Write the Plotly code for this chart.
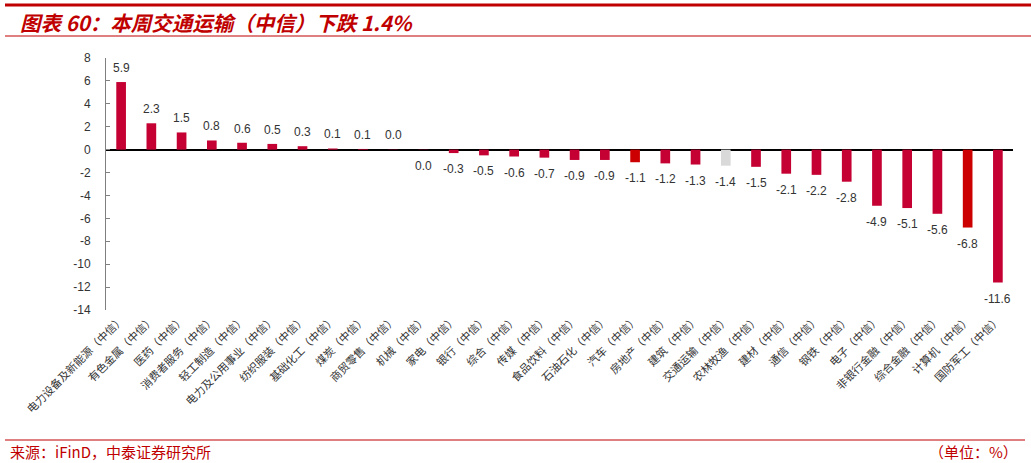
import plotly.graph_objects as go

categories = ["电力设备及新能源（中信）", "有色金属（中信）", "医药（中信）", "消费者服务（中信）",
              "轻工制造（中信）", "电力及公用事业（中信）", "纺织服装（中信）", "基础化工（中信）",
              "煤炭（中信）", "商贸零售（中信）", "机械（中信）", "家电（中信）", "银行（中信）",
              "综合（中信）", "传媒（中信）", "食品饮料（中信）", "石油石化（中信）", "汽车（中信）",
              "房地产（中信）", "建筑（中信）", "交通运输（中信）", "农林牧渔（中信）", "建材（中信）",
              "通信（中信）", "钢铁（中信）", "电子（中信）", "非银行金融（中信）", "综合金融（中信）",
              "计算机（中信）", "国防军工（中信）"]
values = [5.9, 2.3, 1.5, 0.8, 0.6, 0.5, 0.3, 0.1, 0.06, 0.02, -0.02, -0.3, -0.5, -0.6, -0.7,
          -0.9, -0.9, -1.1, -1.2, -1.3, -1.4, -1.5, -2.1, -2.2, -2.8, -4.9, -5.1, -5.6, -6.8, -11.6]
labels = ["5.9", "2.3", "1.5", "0.8", "0.6", "0.5", "0.3", "0.1", "0.1", "0.0", "0.0", "-0.3",
          "-0.5", "-0.6", "-0.7", "-0.9", "-0.9", "-1.1", "-1.2", "-1.3", "-1.4", "-1.5", "-2.1",
          "-2.2", "-2.8", "-4.9", "-5.1", "-5.6", "-6.8", "-11.6"]
y_ticks = [-14, -12, -10, -8, -6, -4, -2, 0, 2, 4, 6, 8]
y_tick_text = ["-14", "-12", "-10", "-8", "-6", "-4", "-2", "0", "2", "4", "6", "8"]

CRIMSON = "#C50032"
RED = "#CC0000"
GREY = "#D9D9D9"
highlight = {"汽车（中信）": RED, "计算机（中信）": RED, "交通运输（中信）": GREY}
colors = [highlight.get(c, CRIMSON) for c in categories]

fig = go.Figure(go.Bar(x=categories, y=values, marker_color=colors, width=0.32,
                       marker_line_width=0, hoverinfo="skip"))

annotations = []
for c, v, t in zip(categories, values, labels):
    annotations.append(dict(x=c, y=v, xref="x", yref="y", text=t, showarrow=False,
                            yanchor="middle", yshift=14 if v >= 0 else -16,
                            font=dict(family="Liberation Sans, Arial", size=12, color="#333333")))

L, W, T, B = 106, 907, 58, 310
H = B - T
def px(x): return (x - L) / W
def py(y): return (B - y) / H

annotations += [
    dict(x=px(18), y=py(22), xref="paper", yref="paper", xanchor="left", yanchor="middle",
         text="<b><i>图表 60：本周交通运输（中信）下跌 1.4%</i></b>", showarrow=False,
         font=dict(family="Noto Sans CJK SC", size=20.5, color="#C00000")),
    dict(x=px(8), y=py(451), xref="paper", yref="paper", xanchor="left", yanchor="middle",
         text="来源：iFinD，中泰证券研究所", showarrow=False,
         font=dict(family="Noto Sans CJK SC", size=15, color="#C00000")),
    dict(x=px(1020), y=py(451), xref="paper", yref="paper", xanchor="right", yanchor="middle",
         text="（单位：%）", showarrow=False,
         font=dict(family="Noto Sans CJK SC", size=15, color="#C00000")),
]

shapes = [
    dict(type="line", xref="paper", yref="paper", x0=px(5), x1=px(1031), y0=py(5), y1=py(5),
         line=dict(color="#C00000", width=3)),
    dict(type="line", xref="paper", yref="paper", x0=px(5), x1=px(1031), y0=py(36), y1=py(36),
         line=dict(color="#C00000", width=1.2)),
    dict(type="line", xref="paper", yref="paper", x0=px(5), x1=px(1025), y0=py(440), y1=py(440),
         line=dict(color="#C00000", width=1.2)),
]

fig.update_layout(
    width=1031, height=463,
    margin=dict(l=L, r=1031 - L - W, t=T, b=463 - B, autoexpand=False),
    plot_bgcolor="white", paper_bgcolor="white",
    showlegend=False, hovermode=False,
    annotations=annotations, shapes=shapes,
    font=dict(family="Liberation Sans, Arial", size=12, color="#333333"),
)
fig.update_xaxes(type="category", tickangle=-45, showline=False, showgrid=False,
                 zeroline=False, ticks="", range=[-0.5, 29.5],
                 tickfont=dict(family="Noto Sans CJK SC", size=11, color="#333333"))
fig.update_yaxes(range=[-14, 8], tickvals=y_ticks, ticktext=y_tick_text, showgrid=False,
                 zeroline=True, zerolinecolor="black", zerolinewidth=2, showline=True,
                 linecolor="#808080", linewidth=1, ticks="inside", ticklen=4,
                 tickcolor="#808080", ticklabelstandoff=12,
                 tickfont=dict(family="Liberation Sans, Arial", size=12, color="#333333"))

fig.write_html("out.html", config={"displayModeBar": False, "staticPlot": True},
               post_script="document.body.style.margin='0';document.body.style.overflow='hidden';")
